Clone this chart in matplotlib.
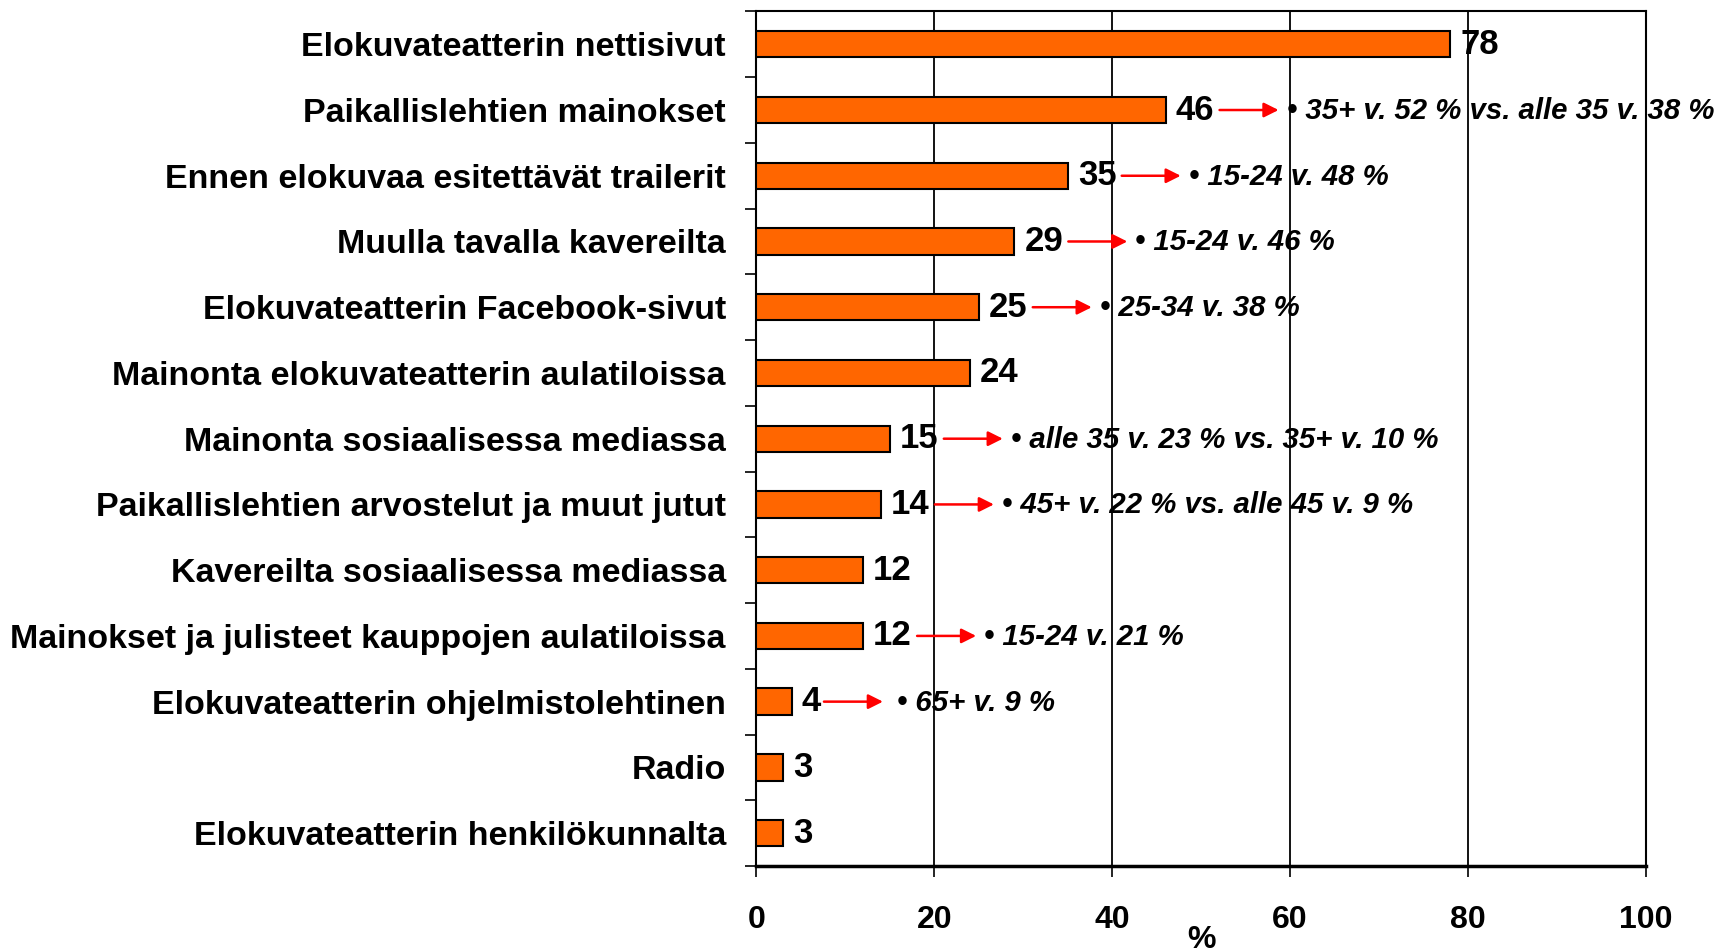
import matplotlib
matplotlib.use("Agg")
import matplotlib.pyplot as plt
from matplotlib import transforms

categories = [
    "Elokuvateatterin nettisivut",
    "Paikallislehtien mainokset",
    "Ennen elokuvaa esitettävät trailerit",
    "Muulla tavalla kavereilta",
    "Elokuvateatterin Facebook-sivut",
    "Mainonta elokuvateatterin aulatiloissa",
    "Mainonta sosiaalisessa mediassa",
    "Paikallislehtien arvostelut ja muut jutut",
    "Kavereilta sosiaalisessa mediassa",
    "Mainokset ja julisteet kauppojen aulatiloissa",
    "Elokuvateatterin ohjelmistolehtinen",
    "Radio",
    "Elokuvateatterin henkilökunnalta",
]
values = [78, 46, 35, 29, 25, 24, 15, 14, 12, 12, 4, 3, 3]
notes = [
    None,
    "35+ v. 52 % vs. alle 35 v. 38 %",
    "15-24 v. 48 %",
    "15-24 v. 46 %",
    "25-34 v. 38 %",
    None,
    "alle 35 v. 23 % vs. 35+ v. 10 %",
    "45+ v. 22 % vs. alle 45 v. 9 %",
    None,
    "15-24 v. 21 %",
    "65+ v. 9 %",
    None,
    None,
]
xticks = [0, 20, 40, 60, 80, 100]

plt.rcParams['font.family'] = ['Liberation Sans', 'DejaVu Sans']

fig = plt.figure(figsize=(17.19, 9.51), dpi=100)
ax = fig.add_axes([0.440, 0.0894, 0.5175, 0.8986])

n = len(categories)
ypos = list(range(n))
ax.barh(ypos, values, height=0.4, color="#FF6600", edgecolor="black", linewidth=1.5, zorder=3)
ax.set_ylim(n - 0.5, -0.5)
ax.set_xlim(0, 100)

ax.set_xticks(xticks)
ax.set_xticklabels([str(t) for t in xticks], fontweight='bold', fontsize=23)
ax.tick_params(axis='x', length=8, width=1.2, direction='out', pad=20)
ax.grid(axis='x', color='black', linewidth=1.3, zorder=1)

ax.set_yticks(ypos)
ax.set_yticklabels(categories, fontsize=24.5, fontweight='bold')
ax.tick_params(axis='y', which='major', length=0, pad=22)
ax.set_yticks([i + 0.5 for i in range(-1, n)], minor=True)
ax.tick_params(axis='y', which='minor', length=8, width=1.2, direction='out')

for s in ['top', 'right', 'left']:
    ax.spines[s].set_linewidth(1.5)
ax.spines['bottom'].set_linewidth(2.5)

ax.set_xlabel("%", fontweight='bold', fontsize=23, labelpad=-7)

for i, v in enumerate(values):
    ax.annotate(str(v), xy=(v, i), xytext=(10, 0), textcoords='offset pixels',
                va='center', ha='left', fontsize=25, fontweight='bold', zorder=4)
    note = notes[i]
    if note:
        start = 54 if v >= 10 else 32
        tr_s = transforms.offset_copy(ax.transData, fig=fig, x=start, y=0, units='dots')
        tr_e = transforms.offset_copy(ax.transData, fig=fig, x=start + 59, y=0, units='dots')
        ax.annotate('', xy=(v, i), xycoords=tr_e, xytext=(v, i), textcoords=tr_s,
                    arrowprops=dict(arrowstyle='-|>', color='red', lw=1.8, mutation_scale=22,
                                    shrinkA=0, shrinkB=0), zorder=4)
        gap = 8 if v >= 10 else 14
        ax.annotate("• " + note, xy=(v, i), xytext=(start + 59 + gap, -1), textcoords='offset pixels',
                    va='center', ha='left', fontsize=21.2, fontweight='bold', style='italic',
                    zorder=4)

fig.savefig("out.png", dpi=100)
